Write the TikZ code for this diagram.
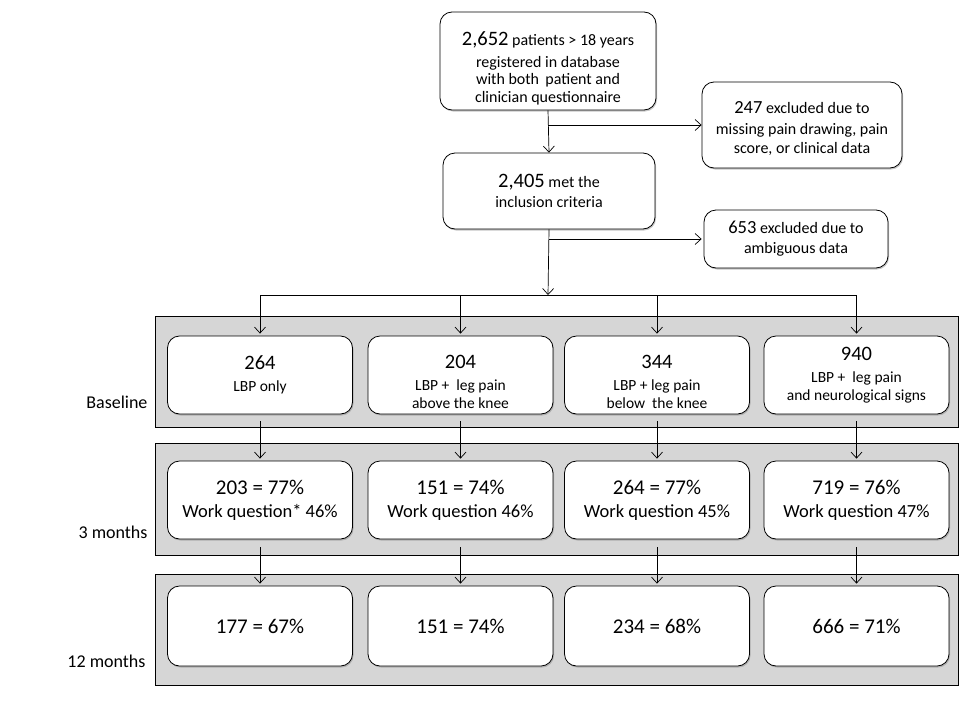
\documentclass[tikz,border=0pt]{standalone}
\usepackage{fontspec}
\setmainfont{Carlito}
\usetikzlibrary{positioning,arrows.meta,shadows}

\newcommand{\bignum}[1]{{\fontsize{20.5}{22}\selectfont #1}}
\newcommand{\midnum}[1]{{\fontsize{18.5}{20}\selectfont #1}}

\tikzset{
  box/.style={draw,rounded corners=12pt,fill=white,align=center,line width=.8pt,
    font=\fontsize{16}{18}\selectfont,inner sep=2pt,
    drop shadow={shadow xshift=1pt,shadow yshift=-1.5pt,opacity=.45}},
  panel/.style={draw,fill=black!16,line width=.8pt},
  flow/.style={-{Straight Barb[length=6pt,width=11pt]},line width=.7pt},
  stage/.style={anchor=base east,font=\fontsize{18}{20}\selectfont},
  pct/.style={font=\fontsize{21}{23}\selectfont}
}

\begin{document}
\begin{tikzpicture}[x=1pt,y=-1pt]
\useasboundingbox (0,0) rectangle (960,720);
% Screening part.
\node[box,minimum width=216,minimum height=98,font=\fontsize{16}{17.5}\selectfont] (reg) at (548,61)
  {\rule{0pt}{29pt}\bignum{2,652} patients > 18 years\\[4pt]
   registered in database\\ with both\, patient and\\ clinician questionnaire};
\node[box,minimum width=200,minimum height=86,font=\fontsize{16}{19.5}\selectfont] (excl1) at (802,125)
  {\rule{0pt}{20pt}\midnum{247} excluded due to\\[1pt] missing pain drawing, pain\\ score, or clinical data};
\node[box,minimum width=212,minimum height=76,font=\fontsize{16}{19.5}\selectfont] (incl) at (549,191)
  {\bignum{2,405} met the\\ inclusion criteria};
\node[box,minimum width=184,minimum height=58,font=\fontsize{16}{20}\selectfont] (excl2) at (796,239)
  {\midnum{653} excluded due to\\ ambiguous data};
\coordinate (split) at (548,295);
% Grey bands for the three time points.
\draw[panel] (155,316) rectangle (958,427);
\draw[panel] (155,443) rectangle (958,555);
\draw[panel] (155,574) rectangle (958,685);
\node[stage] (lbase) at (151,408) {Baseline};
\node[stage] (l3m) at (151,538) {3 months};
\node[stage] (l12m) at (149,667) {12 months};
% Columns: x, strut, baseline, 3 months, 12 months.
\foreach \i/\x/\s/\n/\txt/\tm/\wq/\tl in {
  1/260/0/264/{LBP only}/{203 = 77\%}/{Work question* 46\%}/{177 = 67\%},
  2/460.5/27/204/{LBP +\ \ leg pain\\ above the knee}/{151 = 74\%}/{Work question 46\%}/{151 = 74\%},
  3/657/27/344/{LBP + leg pain\\ below\ \ the knee}/{264 = 77\%}/{Work question 45\%}/{234 = 68\%},
  4/856.5/0/940/{LBP +\ \ leg pain\\ and neurological signs}/{719 = 76\%}/{Work question 47\%}/{666 = 71\%}}{
  \node[box,minimum width=185,minimum height=78,font=\fontsize{15.5}{18}\selectfont] (b\i) at (\x,375)
    {\rule{0pt}{\s pt}\bignum{\n}\\[4pt] \txt};
  \node[box,minimum width=185,minimum height=78,font=\fontsize{18.5}{23}\selectfont] (m\i) at (\x,500)
    {{\fontsize{21}{23}\selectfont\tm}\\ \wq};
  \node[box,minimum width=185,minimum height=80,pct] (y\i) at (\x,626)
    {\tl};
}
% Flow.
\draw[flow] (reg.south) -- (incl.north);
\draw[flow] (reg.south |- excl1.west) -- (excl1.west);
\draw[flow] (incl.south) -- (split);
\draw[flow] (incl.south |- excl2.west) -- ([xshift=-2pt]excl2.west);
\draw (b1.north |- split) -- (b4.north |- split);
\foreach \i in {1,...,4}{
  \draw[flow] (b\i.north |- split) -- ([yshift=2pt]b\i.north);
  \draw[flow] ([yshift=-7pt]b\i.south) -- ([yshift=2pt]m\i.north);
  \draw[flow] ([yshift=-8pt]m\i.south) -- ([yshift=2pt]y\i.north);
}
\end{tikzpicture}
\end{document}
